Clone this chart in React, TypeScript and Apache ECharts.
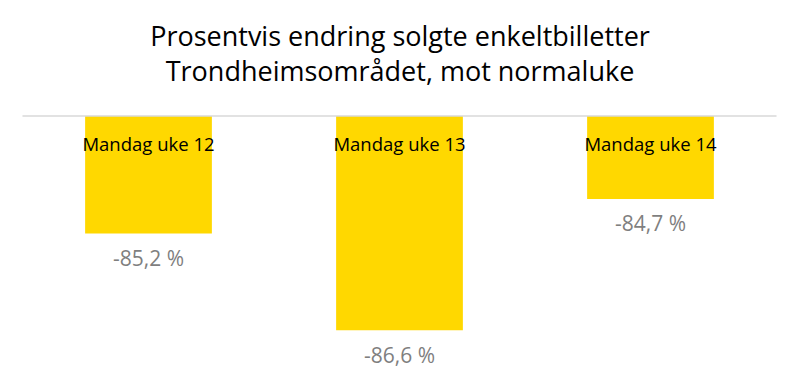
import React, { useEffect, useRef } from "react";
import * as echarts from "echarts";

const categories = ["Mandag uke 12", "Mandag uke 13", "Mandag uke 14"];
const values = [-85.2, -86.6, -84.7];
const titleLines = ["Prosentvis endring solgte enkeltbilletter", "Trondheimsområdet, mot normaluke"];

export default function App() {
  const ref = useRef<HTMLDivElement>(null);
  useEffect(() => {
    if (!ref.current) return;
    const chart = echarts.init(ref.current, undefined, { renderer: "svg" });
    chart.setOption({
      animation: false,
      backgroundColor: "#ffffff",
      title: {
        text: titleLines.join("\n"),
        left: "center",
        top: 13,
        textStyle: {
          fontFamily: "Open Sans",
          fontSize: 27,
          fontWeight: "normal",
          color: "#000000",
          lineHeight: 35,
        },
      },
      grid: { left: 23, right: 24, top: 116, bottom: 23 },
      xAxis: {
        type: "category",
        data: categories,
        position: "top",
        z: 10,
        axisLine: { lineStyle: { color: "#d9d9d9", width: 1.5 } },
        axisTick: { show: false },
        axisLabel: {
          inside: true,
          margin: 18,
          fontFamily: "Open Sans",
          fontSize: 18.5,
          color: "#000000",
        },
      },
      yAxis: {
        type: "value",
        min: -87,
        max: -83.5,
        show: false,
        splitLine: { show: false },
      },
      series: [
        {
          type: "bar",
          data: values,
          barWidth: "50.5%",
          clip: true,
          itemStyle: { color: "#ffd800" },
          z: 1,
          label: {
            show: true,
            position: "bottom",
            distance: 14,
            fontFamily: "Open Sans",
            fontSize: 21,
            color: "#7f7f7f",
            formatter: (p: any) => p.value.toFixed(1).replace(".", ",") + " %",
          },
        },
      ],
    });
    return () => chart.dispose();
  }, []);
  return (
    <div
      ref={ref}
      style={{ position: "fixed", left: 0, top: 0, width: 800, height: 381 }}
    />
  );
}
